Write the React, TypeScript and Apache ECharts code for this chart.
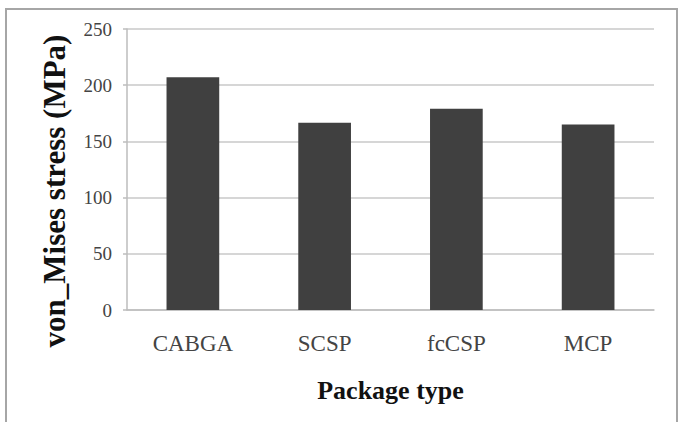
import React, { useEffect, useRef } from "react";
import * as echarts from "echarts";

const categories = ["CABGA", "SCSP", "fcCSP", "MCP"];
const stressValues = [207, 166.5, 179, 165];
const yTicks = { min: 0, max: 250, interval: 50 };
const xTitle = "Package type";
const yTitle = "von_Mises stress (MPa)";

const serif = "'Liberation Serif', 'Times New Roman', serif";

export default function App() {
  const ref = useRef<HTMLDivElement>(null);
  useEffect(() => {
    document.body.style.margin = "0";
    const chart = echarts.init(ref.current!, null, { renderer: "svg" });
    chart.setOption({
      animation: false,
      backgroundColor: "#ffffff",
      grid: { left: 127, right: 28, top: 29, bottom: 112, containLabel: false },
      graphic: [
        {
          type: "rect",
          shape: { x: 6, y: 9, width: 671, height: 440 },
          style: { fill: "none", stroke: "#a6a6a6", lineWidth: 2 },
          silent: true,
        },
        {
          type: "text",
          x: 54,
          y: 191,
          rotation: Math.PI / 2,
          style: {
            text: yTitle,
            font: "bold 31px 'Liberation Serif', 'Times New Roman', serif",
            fill: "#111111",
            align: "center",
            verticalAlign: "middle",
          },
        },
      ],
      xAxis: {
        type: "category",
        data: categories,
        name: xTitle,
        nameLocation: "middle",
        nameGap: 67,
        nameTextStyle: {
          fontFamily: serif,
          fontWeight: "bold",
          fontSize: 26,
          color: "#111111",
        },
        axisLine: { lineStyle: { color: "#bdbdbd", width: 1.5 } },
        axisTick: { show: false },
        axisLabel: {
          margin: 22,
          fontFamily: serif,
          fontSize: 23,
          color: "#444444",
        },
      },
      yAxis: {
        type: "value",
        min: yTicks.min,
        max: yTicks.max,
        interval: yTicks.interval,
        axisLine: { show: true, lineStyle: { color: "#bdbdbd", width: 1.5 } },
        axisTick: { show: true, length: 4, lineStyle: { color: "#bdbdbd", width: 1.5 } },
        splitLine: { lineStyle: { color: "#c8c8c8", width: 1.5 } },
        axisLabel: {
          margin: 15,
          fontFamily: serif,
          fontSize: 19,
          color: "#444444",
        },
      },
      series: [
        {
          type: "bar",
          data: stressValues,
          barWidth: "40%",
          itemStyle: { color: "#404040" },
        },
      ],
    });
    return () => chart.dispose();
  }, []);
  return <div ref={ref} style={{ width: 682, height: 422 }} />;
}
